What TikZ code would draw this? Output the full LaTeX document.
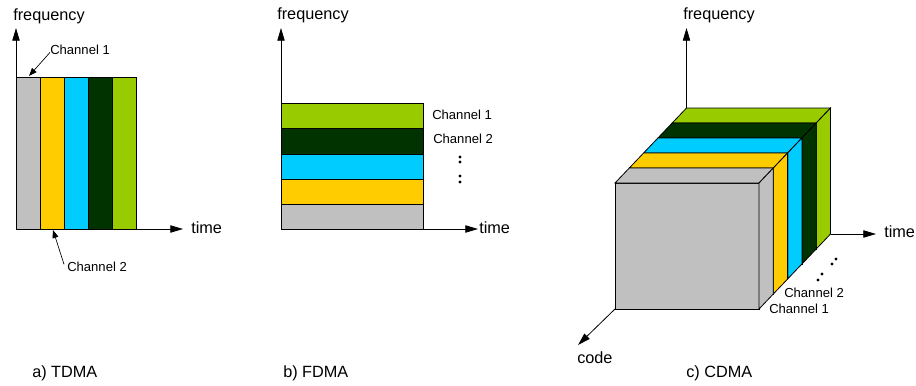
\documentclass[tikz,border=0pt]{standalone}
\usepackage{fontspec}
\setmainfont{Liberation Sans}
\usetikzlibrary{arrows.meta}
\definecolor{chgray}{HTML}{C0C0C0}
\definecolor{chyellow}{HTML}{FFCC00}
\definecolor{chcyan}{HTML}{00CCFF}
\definecolor{chdark}{HTML}{003300}
\definecolor{chgreen}{HTML}{99CC00}
\begin{document}
\begin{tikzpicture}[x=0.75pt,y=-0.75pt,
  axis/.style={line width=0.6pt,-{Triangle[length=9.5pt,width=5.5pt]}},
  pointer/.style={line width=0.5pt,-{Triangle[length=6pt,width=4.5pt]}},
  band/.style={draw=black,line width=0.6pt},
  big/.style={font=\fontsize{12.2}{14}\selectfont,inner sep=0pt,anchor=base west},
  small/.style={font=\fontsize{9.8}{12}\selectfont,inner sep=0pt,anchor=base west},
  dot/.style={circle,fill=black,inner sep=0pt,minimum size=2.4pt}]
\useasboundingbox (0,0) rectangle (916,385);

% ---------- a) TDMA: time slots side by side ----------
\foreach \xa/\xb/\c in {16/40/chgray,40/64/chyellow,64/88/chcyan,88/112/chdark,112/136/chgreen}
  \draw[band,fill=\c] (\xa,77) rectangle (\xb,229);
\coordinate (ta0) at (16,229);
\coordinate (tafreq) at (16,28);
\coordinate (tatime) at (183,229);
\draw[axis] (ta0) -- (tafreq);
\draw[axis] (ta0) -- (tatime);
\node[big] (tfreq) at (13,21) {frequency};
\node[big] (ttime) at (191,233) {time};
\node[small] (tch1) at (50,55) {Channel 1};
\node[small] (tch2) at (67,271) {Channel 2};
\coordinate (tch1tip) at (29,76);
\coordinate (tch2tip) at (53,230);
\draw[pointer] (tch1.south west) ++(0,-3) -- (tch1tip);
\draw[pointer] (tch2.north west) ++(-3,3) -- (tch2tip);
\node[big] (tlabel) at (32,377) {a) TDMA};

% ---------- b) FDMA: frequency bands stacked ----------
\foreach \ya/\yb/\c in {103/128/chgreen,128/154/chdark,154/179/chcyan,179/204/chyellow,204/229/chgray}
  \draw[band,fill=\c] (281,\ya) rectangle (423,\yb);
\coordinate (fa0) at (281,229);
\coordinate (fafreq) at (281,28);
\coordinate (fatime) at (478,229);
\draw[axis] (fa0) -- (fafreq);
\draw[axis] (fa0) -- (fatime);
\node[big] (ffreq) at (277,20) {frequency};
\node[big] (ftime) at (479,233) {time};
\node[small] (fch1) at (432,119) {Channel 1};
\node[small] (fch2) at (433,143) {Channel 2};
\foreach \y [count=\i] in {157,162,176,182}
  \node[dot] (fdot\i) at (460,\y) {};
\node[big] (flabel) at (283,377) {b) FDMA};

% ---------- c) CDMA: code layers drawn back to front ----------
\foreach \k/\c in {4/chgreen,3/chdark,2/chcyan,1/chyellow,0/chgray}{
  \begin{scope}[shift={(\k*14.3,-\k*15)}]
    \draw[band,fill=\c] (615,183) rectangle (759,309);
    \draw[band,fill=\c] (615,183) -- (759,183) -- ++(14.3,-15) -- (629.3,168) -- cycle;
    \draw[band,fill=\c] (759,183) -- ++(14.3,-15) -- ++(0,126) -- (759,309) -- cycle;
  \end{scope}
}
\coordinate (cfreq0) at (686.5,108);
\coordinate (cfreq) at (686.5,28);
\coordinate (ctime0) at (830.5,234);
\coordinate (ctime) at (876,234);
\coordinate (ccode0) at (615,309);
\coordinate (ccode) at (578,345);
\draw[axis] (cfreq0) -- (cfreq);
\draw[axis] (ctime0) -- (ctime);
\draw[axis] (ccode0) -- (ccode);
\node[big] (cfreqlbl) at (683,20) {frequency};
\node[big] (ctimelbl) at (884,237) {time};
\node[big] (ccodelbl) at (577,363) {code};
\node[small] (cch2) at (784,297) {Channel 2};
\node[small] (cch1) at (769,313) {Channel 1};
\foreach \x/\y [count=\i] in {818/280,822/274,832/264,836/259}
  \node[dot] (cdot\i) at (\x,\y) {};
\node[big] (clabel) at (686,377) {c) CDMA};
\end{tikzpicture}
\end{document}
